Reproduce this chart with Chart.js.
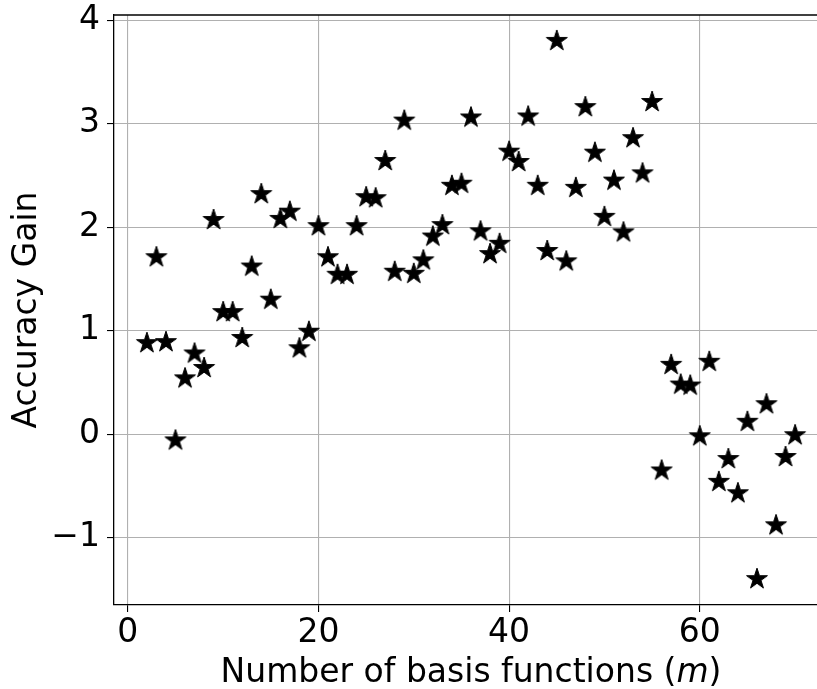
<!DOCTYPE html>
<html lang="en">
<head>
  <meta charset="UTF-8">
  <title>Accuracy Gain vs m</title>
  <script src="https://cdn.jsdelivr.net/npm/chart.js"></script>
  <style>
    body { margin: 0; background: #fff; }
    #wrap { width: 817px; height: 689px; position: relative; }
  </style>
</head>
<body>
  <div id="wrap"><canvas id="gainChart"></canvas></div>

  <script>
    const basisCounts = [2, 3, 4, 5, 6, 7, 8, 9, 10, 11, 12, 13, 14, 15, 16, 17, 18, 19, 20,
      21, 22, 23, 24, 25, 26, 27, 28, 29, 30, 31, 32, 33, 34, 35, 36, 37, 38, 39, 40,
      41, 42, 43, 44, 45, 46, 47, 48, 49, 50, 51, 52, 53, 54, 55, 56, 57, 58, 59, 60,
      61, 62, 63, 64, 65, 66, 67, 68, 69, 70];
    const accuracyGain = [0.88, 1.71, 0.89, -0.06, 0.54, 0.78, 0.64, 2.07, 1.18, 1.18, 0.93, 1.62, 2.32, 1.30, 2.08, 2.15, 0.83, 0.99, 2.01,
      1.71, 1.54, 1.54, 2.01, 2.29, 2.28, 2.64, 1.57, 3.03, 1.55, 1.68, 1.91, 2.02, 2.40, 2.42, 3.06, 1.96, 1.74, 1.84, 2.73,
      2.63, 3.07, 2.40, 1.77, 3.80, 1.67, 2.38, 3.16, 2.72, 2.10, 2.45, 1.95, 2.86, 2.52, 3.21, -0.35, 0.67, 0.48, 0.47, -0.02,
      0.70, -0.46, -0.24, -0.57, 0.12, -1.40, 0.29, -0.88, -0.22, -0.01];
    const xTicks = [0, 20, 40, 60];
    const yTicks = [-1, 0, 1, 2, 3, 4];

    // filled five-point star marker
    function makeStar(r) {
      const size = Math.ceil(r * 2 + 4);
      const c = document.createElement('canvas');
      c.width = size; c.height = size;
      const g = c.getContext('2d');
      const cx = size / 2, cy = size / 2, inner = r * 0.382;
      g.beginPath();
      for (let i = 0; i < 10; i++) {
        const rad = i % 2 === 0 ? r : inner;
        const a = -Math.PI / 2 + i * Math.PI / 5;
        const px = cx + rad * Math.cos(a), py = cy + rad * Math.sin(a);
        i === 0 ? g.moveTo(px, py) : g.lineTo(px, py);
      }
      g.closePath();
      g.fillStyle = '#000';
      g.fill();
      g.lineWidth = 1;
      g.strokeStyle = '#000';
      g.stroke();
      return c;
    }
    const star = makeStar(11);

    const font = 'DejaVu Sans';

    const frame = {
      id: 'frame',
      afterDraw(chart) {
        const { ctx, chartArea } = chart;
        ctx.save();
        ctx.strokeStyle = '#000';
        ctx.lineWidth = 1.3;
        ctx.beginPath();
        ctx.moveTo(chartArea.left, chartArea.top);
        ctx.lineTo(chartArea.right, chartArea.top);
        ctx.stroke();
        // x-axis title with italic m
        ctx.fillStyle = '#000';
        ctx.textBaseline = 'alphabetic';
        const a = 'Number of basis functions (';
        const b = 'm';
        const c = ')';
        ctx.font = '33px "' + font + '"';
        const wa = ctx.measureText(a).width;
        const wc = ctx.measureText(c).width;
        ctx.font = 'italic 33px "' + font + '"';
        const wb = ctx.measureText(b).width;
        let x = 471 - (wa + wb + wc) / 2;
        const y = 682;
        ctx.font = '33px "' + font + '"';
        ctx.fillText(a, x, y);
        ctx.font = 'italic 33px "' + font + '"';
        ctx.fillText(b, x + wa, y);
        ctx.font = '33px "' + font + '"';
        ctx.fillText(c, x + wa + wb, y);
        ctx.restore();
      }
    };

    new Chart(document.getElementById('gainChart').getContext('2d'), {
      type: 'scatter',
      data: {
        datasets: [{
          label: 'Accuracy Gain',
          data: basisCounts.map((m, i) => ({ x: m, y: accuracyGain[i] })),
          pointStyle: star,
          pointRadius: 11,
          pointHoverRadius: 11
        }]
      },
      options: {
        responsive: true,
        maintainAspectRatio: false,
        animation: false,
        clip: false,
        layout: { autoPadding: false, padding: { top: 15, right: 0, left: 0, bottom: 0 } },
        plugins: {
          legend: { display: false },
          tooltip: { enabled: false }
        },
        scales: {
          x: {
            type: 'linear',
            min: -1.45,
            max: 72.3,
            afterBuildTicks: s => { s.ticks = xTicks.map(v => ({ value: v })); },
            afterFit: s => { s.height = 84; s.paddingLeft = 0; s.paddingRight = 0; },
            grid: { color: '#b0b0b0', lineWidth: 1.1, tickColor: '#000', tickLength: 7 },
            border: { color: '#000', width: 1.3 },
            ticks: { color: '#000', font: { family: font, size: 33 }, padding: 2, maxRotation: 0 }
          },
          y: {
            min: -1.65,
            max: 4.05,
            afterBuildTicks: s => { s.ticks = yTicks.map(v => ({ value: v })); },
            afterFit: s => { s.width = 114; s.paddingTop = 0; s.paddingBottom = 0; },
            grid: { color: '#b0b0b0', lineWidth: 1.1, tickColor: '#000', tickLength: 7 },
            border: { color: '#000', width: 1.3 },
            ticks: {
              color: '#000', font: { family: font, size: 33 }, padding: 7,
              callback: v => (v < 0 ? '\u2212' + Math.abs(v) : String(v))
            },
            title: {
              display: true,
              text: 'Accuracy Gain',
              color: '#000',
              font: { family: font, size: 33, lineHeight: 1.2 },
              padding: { top: 8, bottom: 0 }
            }
          }
        }
      },
      plugins: [frame]
    });
  </script>
</body>
</html>
